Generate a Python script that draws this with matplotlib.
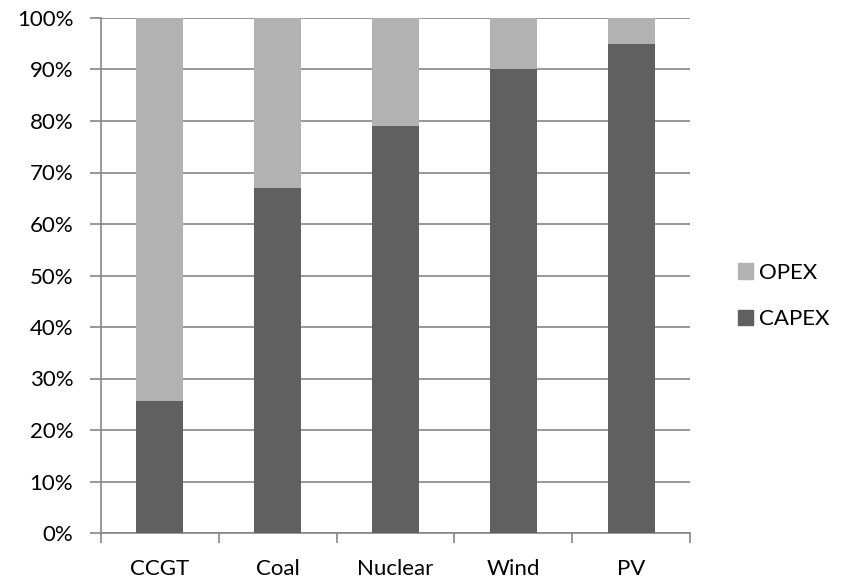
import numpy as np
import matplotlib.pyplot as plt
from matplotlib.patches import Patch

categories = ["CCGT", "Coal", "Nuclear", "Wind", "PV"]
capex = [25.6, 67, 79, 90, 95]
opex = [100 - c for c in capex]

plt.rcParams['font.family'] = ['Lato', 'DejaVu Sans']

fig = plt.figure(figsize=(8.44, 5.80), dpi=100)
ax = fig.add_axes([101 / 844, 47 / 580, 589 / 844, 515 / 580])

x = np.arange(len(categories))
grey_dark = "#606060"
grey_light = "#b2b2b2"
ax.bar(x, capex, width=0.4, color=grey_dark, zorder=3)
ax.bar(x, opex, bottom=capex, width=0.4, color=grey_light, zorder=3)

ax.set_xlim(-0.5, len(categories) - 0.5)
ax.set_ylim(0, 100)
ax.set_yticks(np.arange(0, 101, 10))
ax.set_yticklabels([f"{v}%" for v in range(0, 101, 10)])
ax.yaxis.grid(True, color="#868686", linewidth=1.2, zorder=0)

# category labels in the middle, ticks on the boundaries
ax.set_xticks(x)
ax.set_xticklabels(categories)
ax.tick_params(axis="x", length=0, pad=19)
ax.set_xticks(np.arange(-0.5, len(categories)), minor=True)
ax.tick_params(axis="x", which="minor", length=7, width=1.2, color="#868686")
ax.tick_params(axis="y", length=8, width=1.2, color="#868686", pad=12)
ax.tick_params(labelsize=16, labelcolor="black")

for s in ["top", "right"]:
    ax.spines[s].set_visible(False)
for s in ["left", "bottom"]:
    ax.spines[s].set_color("#868686")
    ax.spines[s].set_linewidth(1.2)

handles = [Patch(color=grey_light, label="OPEX"), Patch(color=grey_dark, label="CAPEX")]
fig.legend(handles=handles, loc="center left", bbox_to_anchor=(738 / 844, 284 / 580),
           frameon=False, fontsize=16, handlelength=0.68, handleheight=0.68,
           handletextpad=0.25, labelspacing=1.2, borderpad=0, borderaxespad=0)

fig.savefig("out.png", dpi=100)
